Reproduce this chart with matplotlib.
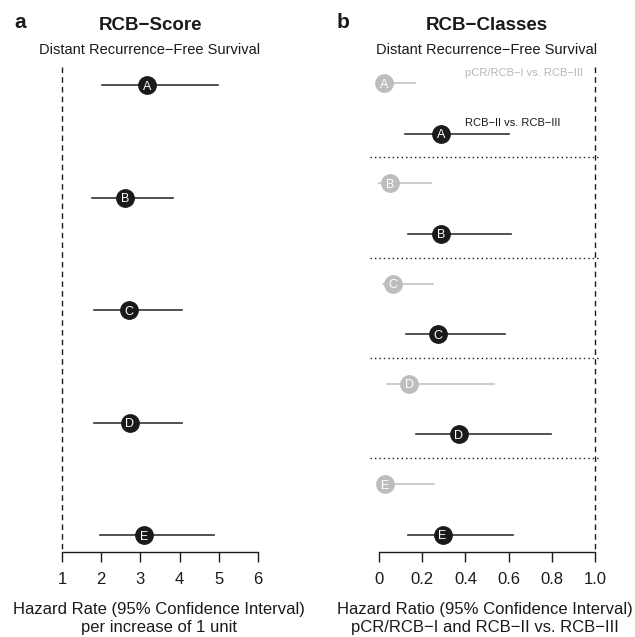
import matplotlib
matplotlib.use("Agg")
import matplotlib.pyplot as plt

plt.rcParams['font.family'] = ['Liberation Sans', 'DejaVu Sans']

# panel a: RCB-Score, hazard rate per unit
studies = ["A", "B", "C", "D", "E"]
score_hr = [3.16, 2.60, 2.71, 2.73, 3.09]
score_lo = [2.02, 1.76, 1.82, 1.82, 1.98]
score_hi = [4.99, 3.84, 4.05, 4.07, 4.88]

# panel b: RCB classes vs RCB-III
pcr_hr = [0.022, 0.051, 0.063, 0.140, 0.028]
pcr_lo = [0.0, 0.0, 0.020, 0.036, 0.0]
pcr_hi = [0.166, 0.243, 0.251, 0.533, 0.254]
rcb2_hr = [0.286, 0.286, 0.271, 0.370, 0.294]
rcb2_lo = [0.120, 0.135, 0.123, 0.171, 0.135]
rcb2_hi = [0.600, 0.613, 0.585, 0.798, 0.620]

W, H = 635, 637
BLACK = "#1a1a1a"
GREY = "#bdbdbd"

fig = plt.figure(figsize=(W / 100, H / 100), dpi=100)


def px_axes(x0, x1, y0, y1):
    return fig.add_axes([x0 / W, 1 - y1 / H, (x1 - x0) / W, (y1 - y0) / H])


def style_axis(ax):
    for s in ["top", "left", "right"]:
        ax.spines[s].set_visible(False)
    ax.spines["bottom"].set_linewidth(1.0)
    ax.spines["bottom"].set_color(BLACK)
    ax.set_yticks([])
    ax.tick_params(axis="x", direction="out", length=7.5, width=1.0,
                   pad=7, labelsize=12, colors=BLACK)
    ax.patch.set_visible(False)


def point(ax, x, y, lo, hi, letter, col, lcol):
    ax.plot([lo, hi], [y, y], color=lcol, lw=1.2, zorder=2, clip_on=False)
    ax.plot(x, y, "o", ms=12.5, mfc=col, mec=col, zorder=3, clip_on=False)
    ax.annotate(letter, (x, y), xytext=(0, -3.3), textcoords="offset points",
                color="white", fontsize=9, ha="center", va="baseline",
                zorder=4)


# ---- panel a ----
ax1 = px_axes(62, 258, 60, 552)
style_axis(ax1)
ax1.set_xlim(1, 6)
ax1.set_xticks([1, 2, 3, 4, 5, 6])
ax1.set_ylim((552 - 85) / 112.5, (60 - 85) / 112.5)
ax1.plot([1, 1], [(67 - 85) / 112.5, (552 - 85) / 112.5], color=BLACK,
         lw=1.0, ls=(0, (4, 3)), clip_on=False)
for i, s in enumerate(studies):
    point(ax1, score_hr[i], i, score_lo[i], score_hi[i], s, BLACK, "#333333")

# ---- panel b ----
ax2 = px_axes(379, 595, 60, 552)
style_axis(ax2)
ax2.set_xlim(0, 1)
ax2.set_xticks([0, 0.2, 0.4, 0.6, 0.8, 1.0])
ax2.set_xticklabels(["0", "0.2", "0.4", "0.6", "0.8", "1.0"])
ax2.set_ylim((552 - 83) / 100.25, (60 - 83) / 100.25)
ax2.plot([1, 1], [(67 - 83) / 100.25, (552 - 83) / 100.25], color=BLACK,
         lw=1.0, ls=(0, (4, 3)), clip_on=False)
for i, s in enumerate(studies):
    point(ax2, pcr_hr[i], i, pcr_lo[i], pcr_hi[i], s, GREY, "#c4c4c4")
    point(ax2, rcb2_hr[i], i + 0.504, rcb2_lo[i], rcb2_hi[i], s, BLACK, "#333333")
    if i < len(studies) - 1:
        ax2.plot([-0.042, 1.02], [i + 0.743, i + 0.743], color=BLACK,
                 lw=1.0, ls=(0, (1, 2.2)), clip_on=False)
ax2.text(0.40, -0.10, "pCR/RCB\u2212I vs. RCB\u2212III", color="#b8b8b8",
         fontsize=8, ha="left", va="center")
ax2.text(0.40, 0.40, "RCB\u2212II vs. RCB\u2212III", color=BLACK,
         fontsize=8, ha="left", va="center")


# ---- titles and labels ----
def ftext(x, y, s, va="center", **kw):
    fig.text(x / W, 1 - y / H, s, color=BLACK, ha="center", va=va, **kw)


ftext(20, 22, "a", fontsize=15, fontweight="bold")
ftext(343, 22, "b", fontsize=15, fontweight="bold")
ftext(150, 25, "RCB\u2212Score", fontsize=13.5, fontweight="bold")
ftext(487, 25, "RCB\u2212Classes", fontsize=13.5, fontweight="bold")
ftext(150, 50, "Distant Recurrence\u2212Free Survival", fontsize=10.5)
ftext(487, 50, "Distant Recurrence\u2212Free Survival", fontsize=10.5)
ftext(159, 614, "Hazard Rate (95% Confidence Interval)", va="baseline", fontsize=12)
ftext(159, 632, "per increase of 1 unit", va="baseline", fontsize=12)
ftext(485, 614, "Hazard Ratio (95% Confidence Interval)", va="baseline", fontsize=12)
ftext(485, 632, "pCR/RCB\u2212I and RCB\u2212II vs. RCB\u2212III", va="baseline", fontsize=12)

fig.savefig("out.png", dpi=100)
